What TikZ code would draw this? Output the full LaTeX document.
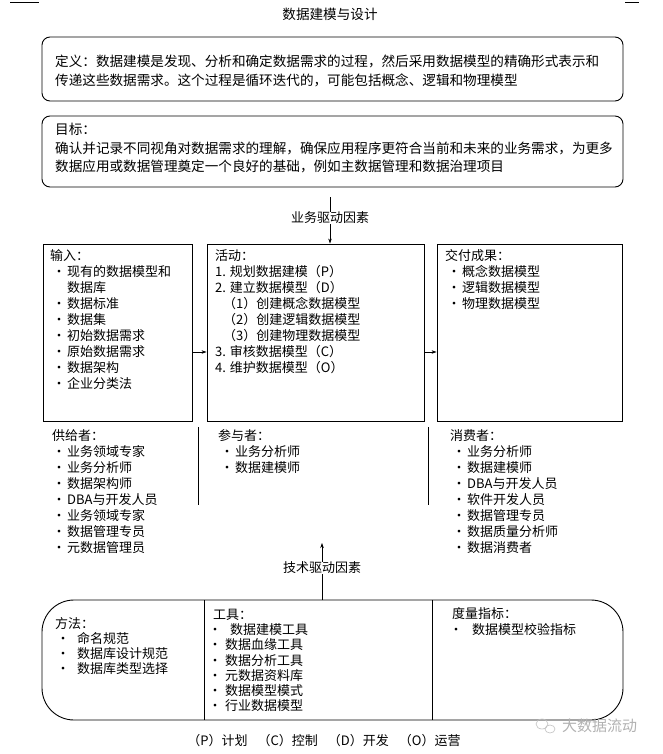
\documentclass[tikz,border=0pt]{standalone}
\usepackage{fontspec}
\setmainfont{Noto Sans CJK SC}
\usepackage{tikz}
\usetikzlibrary{arrows.meta, calc, positioning}

\newcommand{\itemdot}[1][10pt]{\makebox[#1][l]{\hspace*{2pt}\makebox[0pt][c]{·}}}

\begin{document}
\begin{tikzpicture}[x=1pt, y=-1pt,
  box/.style={draw, line width=0.9pt, inner sep=0pt},
  roundbox/.style={box, rounded corners=8pt},
  txt/.style={anchor=north west, align=left, inner sep=0pt, font=\fontsize{13}{16}\selectfont},
  toptxt/.style={txt, font=\fontsize{13.6}{18.5}\selectfont},
  arr/.style={-{Stealth[length=5pt,width=3.5pt]}, line width=0.6pt}]

  % Page
  \fill[white] (0,0) rectangle (663,754);
  \useasboundingbox (0,0) rectangle (663,754);
  \draw[line width=0.8pt] (10,2) -- (39,2);
  \draw[line width=0.8pt] (625,2) -- (639,2);

  % Title
  \node[font=\fontsize{13.6}{16}\selectfont] (title) at (330,14) {数据建模与设计};

  % Definition and goals
  \node[roundbox, minimum width=581pt, minimum height=64pt] (def) at (332.5,69) {};
  \node[toptxt] (deftxt) at (55,55) {定义：数据建模是发现、分析和确定数据需求的过程，然后采用数据模型的精确形式表示和\\
    传递这些数据需求。这个过程是循环迭代的，可能包括概念、逻辑和物理模型};

  \node[roundbox, minimum width=581pt, minimum height=71pt] (goal) at (332.5,151.5) {};
  \node[toptxt] (goaltxt) at (55,123) {目标：\\
    确认并记录不同视角对数据需求的理解，确保应用程序更符合当前和未来的业务需求，为更多\\
    数据应用或数据管理奠定一个良好的基础，例如主数据管理和数据治理项目};

  % Business drivers
  \node[txt, anchor=center] (bizdrv) at (330,218) {业务驱动因素};
  \coordinate (biztop) at (330,197);
  \draw[line width=0.6pt] (biztop) -- (bizdrv.north);

  % Input, activities, deliverables
  \node[box, minimum width=149pt, minimum height=177pt] (input) at (117.5,332.5) {};
  \node[box, minimum width=217pt, minimum height=177pt] (activity) at (315.5,332.5) {};
  \node[box, minimum width=185pt, minimum height=177pt] (deliv) at (529.5,332.5) {};
  \coordinate (midrow) at (0,352);

  \draw[arr] (bizdrv.south) -- (bizdrv.south |- activity.north);
  \draw[arr] (input.east |- midrow) -- (activity.west |- midrow);
  \draw[arr] (activity.east |- midrow) -- (deliv.west |- midrow);

  \node[txt] (inputtxt) at (50,249) {输入：\\
    \hspace*{7pt}\itemdot 现有的数据模型和\\
    \hspace*{17pt}数据库\\
    \hspace*{7pt}\itemdot 数据标准\\
    \hspace*{7pt}\itemdot 数据集\\
    \hspace*{7pt}\itemdot 初始数据需求\\
    \hspace*{7pt}\itemdot 原始数据需求\\
    \hspace*{7pt}\itemdot 数据架构\\
    \hspace*{7pt}\itemdot 企业分类法};

  \node[txt] (activitytxt) at (215,249) {活动：\\
    1. 规划数据建模（P）\\
    2. 建立数据模型（D）\\
    \hspace*{8pt}（1）创建概念数据模型\\
    \hspace*{8pt}（2）创建逻辑数据模型\\
    \hspace*{8pt}（3）创建物理数据模型\\
    3. 审核数据模型（C）\\
    4. 维护数据模型（O）};

  \node[txt] (delivtxt) at (445,249) {交付成果：\\
    \hspace*{7pt}\itemdot 概念数据模型\\
    \hspace*{7pt}\itemdot 逻辑数据模型\\
    \hspace*{7pt}\itemdot 物理数据模型};

  % Roles
  \draw[line width=0.9pt] (198,427) -- (198,505);
  \draw[line width=0.9pt] (428,427) -- (428,505);

  \node[txt] (suppliers) at (52,429) {供给者：\\
    \hspace*{5pt}\itemdot 业务领域专家\\
    \hspace*{5pt}\itemdot 业务分析师\\
    \hspace*{5pt}\itemdot 数据架构师\\
    \hspace*{5pt}\itemdot DBA与开发人员\\
    \hspace*{5pt}\itemdot 业务领域专家\\
    \hspace*{5pt}\itemdot 数据管理专员\\
    \hspace*{5pt}\itemdot 元数据管理员};

  \node[txt] (participants) at (218,429) {参与者：\\
    \hspace*{7pt}\itemdot 业务分析师\\
    \hspace*{7pt}\itemdot 数据建模师};

  \node[txt] (consumers) at (450,429) {消费者：\\
    \hspace*{7pt}\itemdot 业务分析师\\
    \hspace*{7pt}\itemdot 数据建模师\\
    \hspace*{7pt}\itemdot DBA与开发人员\\
    \hspace*{7pt}\itemdot 软件开发人员\\
    \hspace*{7pt}\itemdot 数据管理专员\\
    \hspace*{7pt}\itemdot 数据质量分析师\\
    \hspace*{7pt}\itemdot 数据消费者};

  % Technical drivers
  \node[txt, anchor=center] (techdrv) at (322,568) {技术驱动因素};
  \coordinate (techtip) at (322,543);
  \draw[arr] (techdrv.north) -- (techtip);

  % Techniques, tools, metrics
  \node[box, rounded corners=32pt, minimum width=581pt, minimum height=120pt] (bottom) at (332.5,660) {};
  \draw[line width=0.6pt] (techdrv.south) -- (techdrv.south |- bottom.north);
  \draw[line width=0.9pt] (204,600) -- (204,720);
  \draw[line width=0.9pt] (432,600) -- (432,720);

  \node[txt, font=\fontsize{13}{15}\selectfont] (methods) at (55,617) {方法：\\
    \hspace*{6pt}\itemdot[16pt]命名规范\\
    \hspace*{6pt}\itemdot[16pt]数据库设计规范\\
    \hspace*{6pt}\itemdot[16pt]数据库类型选择};

  \node[txt, font=\fontsize{13}{15.2}\selectfont] (tools) at (213,609) {工具：\\
    \itemdot[17pt]数据建模工具\\
    \itemdot[12pt]数据血缘工具\\
    \itemdot[12pt]数据分析工具\\
    \itemdot[12pt]元数据资料库\\
    \itemdot[12pt]数据模型模式\\
    \itemdot[12pt]行业数据模型};

  \node[txt] (metrics) at (452,607) {度量指标：\\
    \hspace*{2pt}\itemdot[18pt]数据模型校验指标};

  % Legend
  \node[txt, anchor=center] (legend) at (324,741) {（P）计划\hspace{10pt}（C）控制\hspace{10pt}（D）开发\hspace{10pt}（O）运营};

  % Watermark
  \draw[gray!50, line width=0.6pt] (542,724) ellipse (6pt and 5pt);
  \draw[gray!50, line width=0.6pt] (550,729) ellipse (5pt and 4pt);
  \node[txt, anchor=west, text=gray!60, font=\fontsize{15}{16}\selectfont] (mark) at (562,726) {大数据流动};
\end{tikzpicture}
\end{document}
